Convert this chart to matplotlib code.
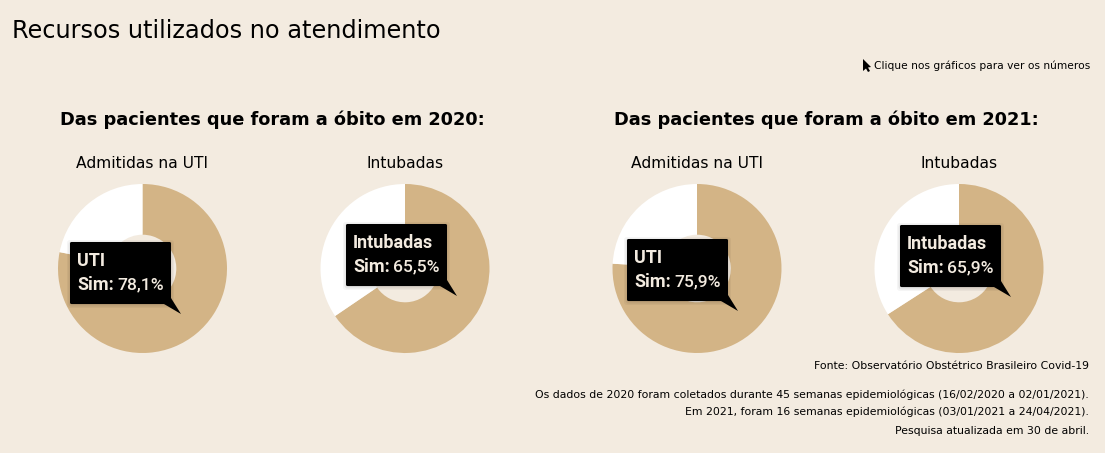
import matplotlib
matplotlib.use('Agg')
import matplotlib.pyplot as plt
from matplotlib.patches import FancyBboxPatch, Polygon

BG = '#f3ebe0'
TAN = '#d3b486'
W, H = 1105, 453

# data
years = ['2020', '2021']
chart_labels = ['Admitidas na UTI', 'Intubadas', 'Admitidas na UTI', 'Intubadas']
tip_titles = ['UTI', 'Intubadas', 'UTI', 'Intubadas']
sim_values = [78.1, 65.5, 75.9, 65.9]
notes = ['Fonte: Observatório Obstétrico Brasileiro Covid-19',
         'Os dados de 2020 foram coletados durante 45 semanas epidemiológicas (16/02/2020 a 02/01/2021).',
         'Em 2021, foram 16 semanas epidemiológicas (03/01/2021 a 24/04/2021).',
         'Pesquisa atualizada em 30 de abril.']

# layout, in pixels
centers = [142.5, 405, 697, 959]
center_y = 268.5
radius = 84.5
tip_x = [70, 346, 627, 900]
tip_y = [242, 224, 239, 225]
tip_w, tip_h = 101, 62
note_y = [366, 395, 412, 431]

fig = plt.figure(figsize=(W / 100, H / 100), dpi=100, facecolor=BG)

# one axes per donut
for cx, val in zip(centers, sim_values):
    ax = fig.add_axes([(cx - radius) / W, 1 - (center_y + radius) / H,
                       2 * radius / W, 2 * radius / H])
    ax.pie([val, 100 - val], colors=[TAN, 'white'], startangle=90, counterclock=False,
           radius=1, wedgeprops=dict(width=0.6, linewidth=0))
    ax.set_xlim(-1, 1)
    ax.set_ylim(-1, 1)

# overlay in pixel coords for text and tooltips
over = fig.add_axes([0, 0, 1, 1], zorder=5)
over.set_xlim(0, W)
over.set_ylim(H, 0)
over.axis('off')

over.text(12, 31, 'Recursos utilizados no atendimento', fontsize=17.3, va='center', color='black')

# little cursor next to the hint
over.add_patch(Polygon([(863, 59), (863, 71), (866, 68.5), (868, 72), (870, 71), (868, 67.5), (871, 67)],
                       color='black', lw=0))
over.text(1090, 66, 'Clique nos gráficos para ver os números', fontsize=7.7, ha='right', va='center')

for x, year in zip([60, 614], years):
    over.text(x, 120, f'Das pacientes que foram a óbito em {year}:', fontsize=12.8,
              fontweight='bold', va='center')

for cx, lab in zip(centers, chart_labels):
    over.text(cx, 164, lab, fontsize=11.2, ha='center', va='center')

for x, y, title, val in zip(tip_x, tip_y, tip_titles, sim_values):
    for grow, alpha in [(4, 0.04), (2.5, 0.06), (1, 0.08)]:
        over.add_patch(FancyBboxPatch((x - grow + 1, y - grow + 2), tip_w + 2 * grow - 2, tip_h + 2 * grow - 2,
                                      boxstyle='round,pad=0,rounding_size=3', fc='black', ec='none', alpha=alpha))
    over.add_patch(FancyBboxPatch((x, y), tip_w, tip_h, boxstyle='round,pad=0,rounding_size=1.5',
                                  fc='black', ec='none'))
    over.add_patch(Polygon([(x + tip_w - 7, y + tip_h), (x + tip_w + 10, y + tip_h + 10), (x + tip_w, y + tip_h - 6)],
                           fc='black', ec='none'))
    over.text(x + 7, y + 19, title, color=BG, family='Roboto', fontweight='bold', fontsize=13, va='center')
    lab = over.text(x + 7, y + 43, 'Sim:', color=BG, family='Roboto', fontweight='bold', fontsize=13, va='center')
    over.annotate(f'{val:.1f}'.replace('.', ',') + '%', xy=(1, 0.5), xycoords=lab, xytext=(2.5, 0),
                  textcoords='offset points', color=BG, family='Roboto', fontweight='medium',
                  fontsize=12.6, va='center')

for y, note in zip(note_y, notes):
    over.text(1089, y, note, fontsize=7.8, ha='right', va='center')

fig.savefig('out.png', dpi=100, facecolor=BG)
